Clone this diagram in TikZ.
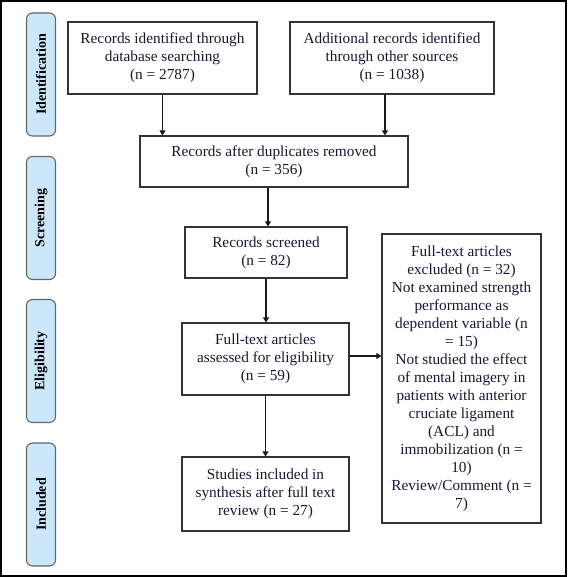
\documentclass[tikz,border=0pt]{standalone}
\usepackage{fontspec}
\setmainfont{Liberation Serif}
\usetikzlibrary{arrows.meta}

\begin{document}
\begin{tikzpicture}[x=1pt,y=-1pt,
  box/.style={rectangle,draw=black!80,line width=1.1pt,align=center,inner sep=0pt,
    font=\fontsize{15.3}{18}\selectfont,text={rgb,255:red,30;green,20;blue,50}},
  stage/.style={rectangle,rounded corners=6pt,draw=black!60,line width=1.1pt,
    fill={rgb,255:red,204;green,230;blue,250},rotate=90,minimum width=123pt,
    minimum height=29pt,inner sep=0pt,font=\fontsize{14}{16}\selectfont\bfseries},
  a/.style={-{Triangle[length=5pt,width=6pt]},line width=1.1pt,draw=black!90}]

\useasboundingbox (0,0) rectangle (567,577);
\draw[line width=1.4pt] (1,1) rectangle (566,576);

% stages on the left
\node[stage] (sid) at (41,74.5) {Identification};
\node[stage] (sscr) at (41,218) {Screening};
\node[stage] (selig) at (41,361) {Eligibility};
\node[stage] (sinc) at (41,504.5) {Included};

% identification
\node[box,minimum width=189pt,minimum height=72pt] (db) at (162.5,58)
  {Records identified through\\database searching\\(n = 2787)};
\node[box,minimum width=204pt,minimum height=72pt] (other) at (392,58)
  {Additional records identified\\through other sources\\(n = 1038)};

% screening
\node[box,minimum width=268pt,minimum height=51pt] (dup) at (274,161.5)
  {Records after duplicates removed\\(n = 356)};
\node[box,minimum width=162pt,minimum height=51pt] (scr) at (266,252.5)
  {Records screened\\(n = 82)};

% eligibility
\node[box,minimum width=167pt,minimum height=72pt] (full) at (265.5,359)
  {Full-text articles\\assessed for eligibility\\(n = 59)};
\node[box,minimum width=159pt,minimum height=289pt] (excl) at (461.5,378.5)
  {Full-text articles\\excluded (n = 32)\\Not examined strength\\performance as\\
   dependent variable (n\\= 15)\\Not studied the effect\\of mental imagery in\\
   patients with anterior\\cruciate ligament\\(ACL) and\\immobilization (n =\\
   10)\\Review/Comment (n =\\7)};

% included
\node[box,minimum width=167pt,minimum height=74pt] (inc) at (265.5,494)
  {Studies included in\\synthesis after full text\\review (n = 27)};

% arrows
\draw[a] (db.south) -- (db.south |- dup.north);
\draw[a] ([xshift=-7pt]other.south) -- ([xshift=-7pt]other.south |- dup.north);
\draw[a] ([xshift=-6pt]dup.south) -- ([xshift=-6pt]dup.south |- scr.north);
\draw[a] (scr.south) -- (scr.south |- full.north);
\draw[a] (full.south) -- (full.south |- inc.north);
\draw[a] ([yshift=3pt]full.east) -- ([yshift=3pt]full.east -| excl.west);
\end{tikzpicture}
\end{document}
